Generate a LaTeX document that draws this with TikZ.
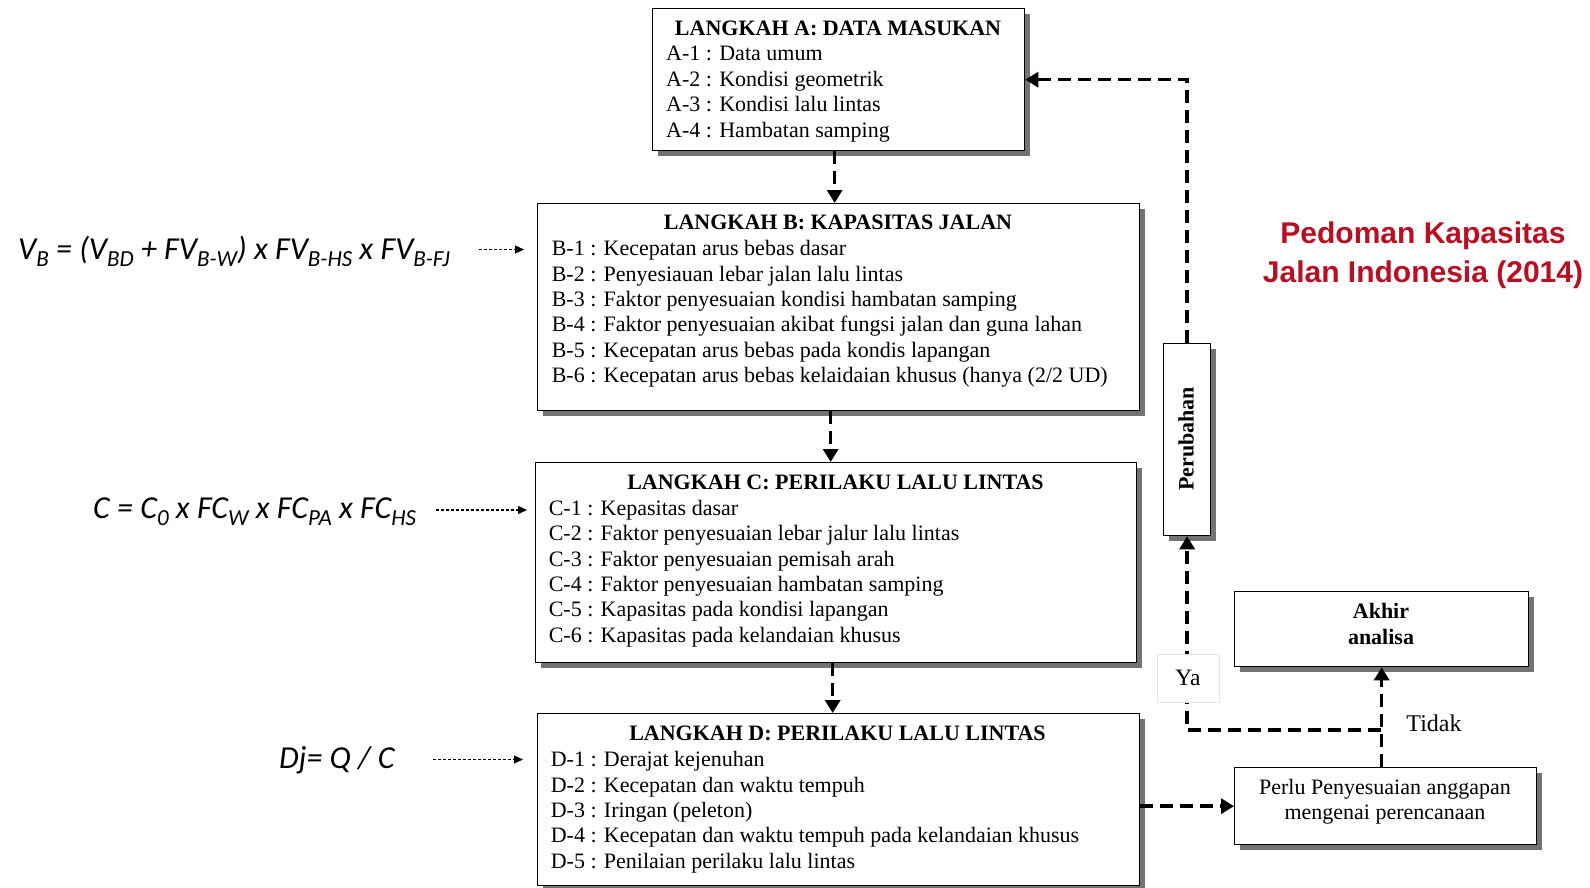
\documentclass[tikz,border=0pt]{standalone}
\usepackage{fontspec}
\setmainfont{Liberation Serif}
\newfontfamily\calibf{Carlito}
\newfontfamily\arialf{Liberation Sans}
\usetikzlibrary{arrows.meta,shadows}
\definecolor{titlered}{RGB}{185,15,35}
\newcommand\fsub[1]{\raisebox{-0.24em}{\fontsize{23}{23}\selectfont #1}}
\begin{document}
\begin{tikzpicture}[x=1pt,y=-1pt,
  stepbox/.style={draw=black, line width=1.3pt, fill=white, anchor=north west, inner sep=0pt,
     drop shadow={shadow xshift=5pt, shadow yshift=-5pt, fill=black!55, opacity=1}},
  boxtxt/.style={anchor=mid west, inner sep=0pt, yshift=-6pt, font=\fontsize{22}{25}\selectfont},
  boxtitle/.style={anchor=mid, inner sep=0pt, yshift=-6pt, font=\fontsize{22}{25}\selectfont\bfseries},
  flow/.style={line width=3.5pt, dash pattern=on 13pt off 7pt, -{Triangle[width=15pt,length=13pt]}},
  hint/.style={line width=1.2pt, dash pattern=on 3pt off 2pt, -{Triangle[width=8pt,length=9pt]}},
  formula/.style={anchor=base west, inner sep=0pt, font=\calibf\itshape\fontsize{32}{34}\selectfont},
]
\useasboundingbox (0,0) rectangle (1590,888);
\fill[white] (0,0) rectangle (1590,888);

% Box A
\node[stepbox, minimum width=372pt, minimum height=142pt] (boxA) at (652,8) {};
\node[boxtitle] (a0) at (838,27) {LANGKAH A: DATA MASUKAN};
\node[boxtxt] (a1) at (666,52.7) {A-1 : Data umum};
\node[boxtxt] (a2) at (666,78) {A-2 : Kondisi geometrik};
\node[boxtxt] (a3) at (666,103.4) {A-3 : Kondisi lalu lintas};
\node[boxtxt] (a4) at (666,128.8) {A-4 : Hambatan samping};

% Box B
\node[stepbox, minimum width=602pt, minimum height=207pt] (boxB) at (537,203) {};
\node[boxtitle] (b0) at (838,221) {LANGKAH B: KAPASITAS JALAN};
\node[boxtxt] (b1) at (551.6,247.4) {B-1 : Kecepatan arus bebas dasar};
\node[boxtxt] (b2) at (551.6,272.8) {B-2 : Penyesiauan lebar jalan lalu lintas};
\node[boxtxt] (b3) at (551.6,298.1) {B-3 : Faktor penyesuaian kondisi hambatan samping};
\node[boxtxt] (b4) at (551.6,323.5) {B-4 : Faktor penyesuaian akibat fungsi jalan dan guna lahan};
\node[boxtxt] (b5) at (551.6,348.8) {B-5 : Kecepatan arus bebas pada kondis lapangan};
\node[boxtxt] (b6) at (551.6,374.2) {B-6 : Kecepatan arus bebas kelaidaian khusus (hanya (2/2 UD)};

% Box C
\node[stepbox, minimum width=601pt, minimum height=200pt] (boxC) at (535,462) {};
\node[boxtitle] (c0) at (835.5,481.6) {LANGKAH C: PERILAKU LALU LINTAS};
\node[boxtxt] (c1) at (548.6,507) {C-1 : Kepasitas dasar};
\node[boxtxt] (c2) at (548.6,532.4) {C-2 : Faktor penyesuaian lebar jalur lalu lintas};
\node[boxtxt] (c3) at (548.6,557.7) {C-3 : Faktor penyesuaian pemisah arah};
\node[boxtxt] (c4) at (548.6,583.1) {C-4 : Faktor penyesuaian hambatan samping};
\node[boxtxt] (c5) at (548.6,608.4) {C-5 : Kapasitas pada kondisi lapangan};
\node[boxtxt] (c6) at (548.6,633.8) {C-6 : Kapasitas pada kelandaian khusus};

% Box D
\node[stepbox, minimum width=602pt, minimum height=172pt] (boxD) at (537,713) {};
\node[boxtitle] (d0) at (837.5,732) {LANGKAH D: PERILAKU LALU LINTAS};
\node[boxtxt] (d1) at (550.6,758.5) {D-1 : Derajat kejenuhan};
\node[boxtxt] (d2) at (550.6,783.8) {D-2 : Kecepatan dan waktu tempuh};
\node[boxtxt] (d3) at (550.6,809.2) {D-3 : Iringan (peleton)};
\node[boxtxt] (d4) at (550.6,834.5) {D-4 : Kecepatan dan waktu tempuh pada kelandaian khusus};
\node[boxtxt] (d5) at (550.6,859.9) {D-5 : Penilaian perilaku lalu lintas};

% Right side boxes
\node[stepbox, minimum width=47pt, minimum height=192pt] (perub) at (1163,343) {};
\node[rotate=90, inner sep=0pt, font=\fontsize{22}{25}\selectfont\bfseries] (perubt) at (1186,439) {Perubahan};
\node[stepbox, minimum width=294pt, minimum height=75pt] (akhir) at (1234,591) {};
\node[align=center, inner sep=0pt, font=\fontsize{22}{26}\selectfont\bfseries] (akhirt) at (1381,624) {Akhir\\analisa};
\node[stepbox, minimum width=302pt, minimum height=77pt] (perlu) at (1234,767) {};
\node[align=center, inner sep=0pt, font=\fontsize{22}{25}\selectfont] (perlut) at (1385,801.5) {Perlu Penyesuaian anggapan\\mengenai perencanaan};

% Flow arrows
\draw[flow] ([xshift=-4pt]boxA.south) -- ([xshift=-4pt]boxA.south |- boxB.north);
\draw[flow] ([xshift=-8pt]boxB.south) -- ([xshift=-8pt]boxB.south |- boxC.north);
\draw[flow] ([xshift=-3.5pt]boxC.south) -- ([xshift=-3.5pt]boxC.south |- boxD.north);
\draw[flow] (boxD.east |- perlu.west) -- (perlu.west);
\draw[flow] (perlu.north -| akhir.south) -- (akhir.south);
\coordinate (jn) at (1381,730);
\draw[flow] (jn) -| (perub.south);
\draw[flow] (perub.north) |- (boxA.east);
\node[fill=white, draw=black!10, minimum width=62pt, minimum height=48pt, inner sep=0pt, font=\fontsize{23.5}{25}\selectfont] (ya) at (1188,678) {Ya};
\node[inner sep=0pt, font=\fontsize{24}{26}\selectfont] (tidak) at (1434,723) {Tidak};

% Title
\node[align=center, inner sep=0pt, text=titlered, font=\arialf\bfseries\fontsize{30}{39}\selectfont] (ttl) at (1423,255) {Pedoman Kapasitas\\Jalan Indonesia (2014)};

% Formulas
\node[formula] (fB) at (18,259) {V\fsub{B} = (V\fsub{BD} + FV\fsub{B-W}) x FV\fsub{B-HS} x FV\fsub{B-FJ}};
\coordinate (fBs) at (479,249.5);
\draw[hint, shorten >=13pt] (fBs) -- (fBs -| boxB.west);
\node[formula] (fC) at (93,518) {C = C\fsub{0} x FC\fsub{W} x FC\fsub{PA} x FC\fsub{HS}};
\coordinate (fCs) at (436,510);
\draw[hint, shorten >=8pt] (fCs) -- (fCs -| boxC.west);
\node[formula] (fD) at (279,768) {Dj= Q / C};
\coordinate (fDs) at (433,759.5);
\draw[hint, shorten >=14pt] (fDs) -- (fDs -| boxD.west);
\end{tikzpicture}
\end{document}
